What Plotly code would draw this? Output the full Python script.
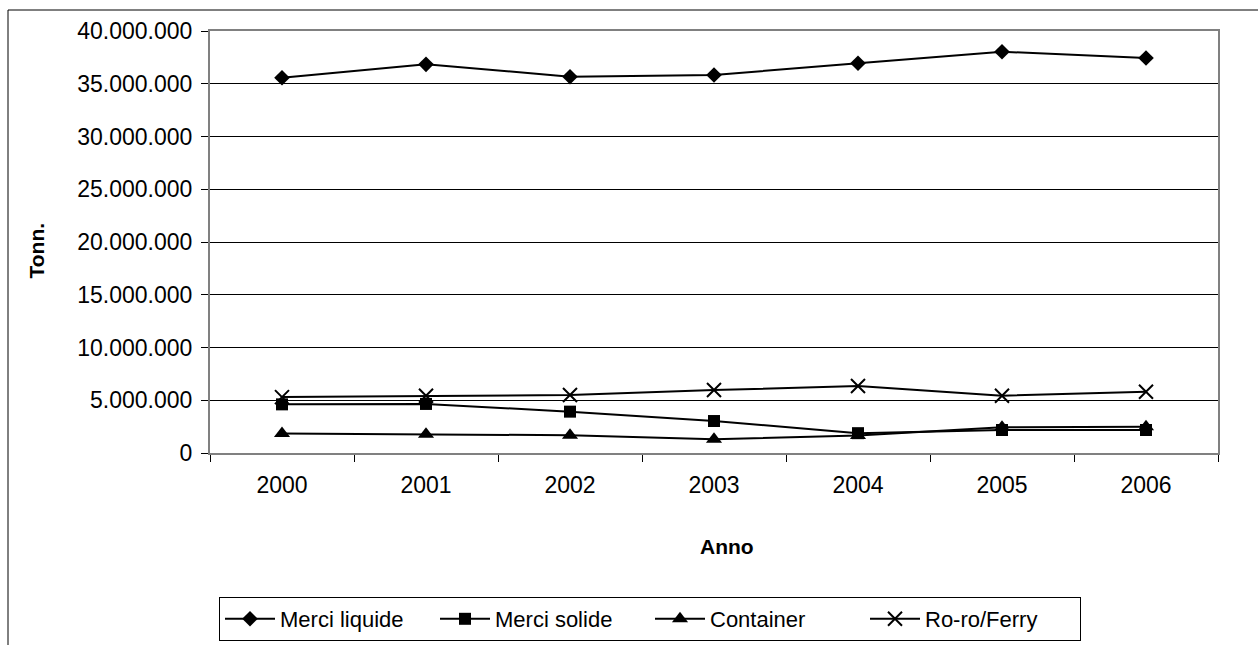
import plotly.graph_objects as go

years = ["2000", "2001", "2002", "2003", "2004", "2005", "2006"]
merci_liquide = [35570000, 36840000, 35670000, 35830000, 36940000, 38040000, 37440000]
merci_solide = [4610000, 4650000, 3920000, 3030000, 1880000, 2180000, 2180000]
container = [1860000, 1770000, 1680000, 1300000, 1650000, 2430000, 2500000]
roro_ferry = [5300000, 5430000, 5500000, 5970000, 6350000, 5430000, 5810000]
y_ticks = [0, 5000000, 10000000, 15000000, 20000000, 25000000, 30000000, 35000000, 40000000]

FONT = "Liberation Sans, Arial, sans-serif"

series = [
    ("Merci liquide", merci_liquide, dict(symbol="diamond", size=12, color="black")),
    ("Merci solide", merci_solide, dict(symbol="square", size=12, color="black")),
    ("Container", container, dict(symbol="triangle-up", size=14, color="black")),
    ("Ro-ro/Ferry", roro_ferry, dict(symbol="x-thin", size=14, color="black",
                                      line=dict(color="black", width=2))),
]

fig = go.Figure()
for name, vals, mk in series:
    fig.add_trace(go.Scatter(
        x=years, y=vals, name=name, mode="lines+markers",
        line=dict(color="black", width=2), marker=mk,
    ))

L, R, T, B = 210, 40, 31, 192
W, H = 1258, 645
pw, ph = W - L - R, H - T - B

def px_x(p):
    return (p - L) / pw

def px_y(p):
    return (H - B - p) / ph

fig.update_layout(
    width=W, height=H,
    margin=dict(l=L, r=R, t=T, b=B, pad=0, autoexpand=False),
    paper_bgcolor="white", plot_bgcolor="white",
    separators=",.",
    font=dict(family=FONT, size=23, color="black"),
    showlegend=True,
    legend=dict(
        orientation="h", x=px_x(219), y=px_y(597), xanchor="left", yanchor="top",
        bordercolor="black", borderwidth=1, bgcolor="white",
        font=dict(family=FONT, size=22, color="black"),
        entrywidth=150, entrywidthmode="pixels", itemwidth=50,
        tracegroupgap=0,
    ),
    xaxis=dict(
        type="category", range=[-0.5, 6.5], tickson="boundaries",
        ticks="outside", ticklen=7, tickcolor="black", tickwidth=1,
        showgrid=False, zeroline=False,
        showline=True, linecolor="#808080", linewidth=2, mirror=True,
        tickfont=dict(family=FONT, size=23, color="black"),
        ticklabelstandoff=10,
    ),
    yaxis=dict(
        range=[0, 40000000], tickvals=y_ticks, tickformat=",d",
        ticks="outside", ticklen=7, tickcolor="black", tickwidth=1,
        showgrid=True, gridcolor="black", gridwidth=1, zeroline=False,
        showline=True, linecolor="#808080", linewidth=2, mirror=True,
        tickfont=dict(family=FONT, size=23, color="black"),
        ticklabelstandoff=4,
    ),
    annotations=[
        dict(text="<b>Anno</b>", xref="paper", yref="paper", x=px_x(727), y=px_y(546),
             xanchor="center", yanchor="middle", showarrow=False,
             font=dict(family=FONT, size=21, color="black")),
        dict(text="<b>Tonn.</b>", xref="paper", yref="paper", x=px_x(35.5), y=px_y(251),
             xanchor="center", yanchor="middle", showarrow=False, textangle=-90,
             font=dict(family=FONT, size=21, color="black")),
    ],
    shapes=[
        dict(type="line", xref="paper", yref="paper", x0=px_x(8), x1=px_x(1262),
             y0=px_y(10), y1=px_y(10), line=dict(color="black", width=1)),
        dict(type="line", xref="paper", yref="paper", x0=px_x(8), x1=px_x(8),
             y0=px_y(10), y1=px_y(650), line=dict(color="black", width=1)),
    ],
)

fig.write_html("out.html")
